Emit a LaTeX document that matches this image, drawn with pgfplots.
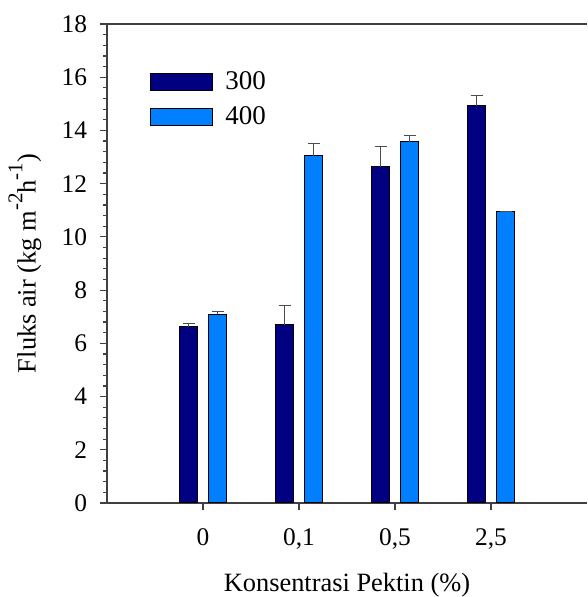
\documentclass[border=0pt]{standalone}
\usepackage{fontspec}
\setmainfont{Liberation Serif}
\usepackage{pgfplots}
\pgfplotsset{compat=1.18}
\definecolor{navyb}{RGB}{0,0,128}
\definecolor{skyb}{RGB}{0,128,255}
\newcommand{\sups}[1]{\raisebox{0.5em}{\fontsize{10.5}{12}\selectfont #1}}
\begin{document}
\fontsize{12}{14}\selectfont
\begin{tikzpicture}
\begin{axis}[
  scale only axis, width=240pt, height=239.5pt,
  xmin=-1, xmax=4, ymin=0, ymax=18,
  ybar=5.5pt, bar width=9pt,
  axis x line=box, axis y line=left,
  axis line style={-, black!75, line width=0.8pt},
  xtick={0,1,2,3}, xticklabels={0,{0,1},{0,5},{2,5}},
  xtick pos=bottom,
  ytick={0,2,...,18}, minor y tick num=4,
  tick align=outside, major tick length=3.3pt, minor tick length=2pt,
  tick style={black!75, line width=0.6pt},
  /pgf/number format/assume math mode=true,
  ylabel={Fluks air (kg m\sups{-2}h\sups{-1})},
  xlabel={Konsentrasi Pektin (\%)},
  label style={font=\fontsize{13.2}{15}\selectfont},
  ylabel shift=2pt, xlabel shift=3.5pt,
  ticklabel style={font=\fontsize{12.7}{14}\selectfont},
  yticklabel style={xshift=-2.5pt},
  xticklabel style={yshift=-5.5pt},
  legend style={at={(axis description cs:0.0896,0.91)}, anchor=north west, draw=none, fill=none, inner sep=0pt, row sep=2.5pt, font=\fontsize{13.5}{15}\selectfont},
  legend cell align=left,
  legend image code/.code={\draw[#1] (0pt,-4.25pt) rectangle (31pt,4.25pt); \path (35pt,0pt);},
]
\addplot[fill=navyb, draw=black, line width=0.5pt,
  error bars/.cd, y dir=plus, y explicit,
  error bar style={black!70, line width=0.6pt},
  error mark options={rotate=90, mark size=3pt, black!70, line width=0.6pt}]
  table[x=x, y=y, y error=e] {
x y e
0 6.63 0.12
1 6.70 0.73
2 12.64 0.75
3 14.92 0.39
};
\addplot[fill=skyb, draw=black, line width=0.5pt,
  error bars/.cd, y dir=plus, y explicit,
  error bar style={black!70, line width=0.6pt},
  error mark options={rotate=90, mark size=3pt, black!70, line width=0.6pt}]
  table[x=x, y=y, y error=e] {
x y e
0 7.10 0.09
1 13.05 0.47
2 13.58 0.23
3 10.95 0.0
};
\legend{300,400}
\end{axis}
\pgfresetboundingbox
\path ([shift={(-53.5pt,-47pt)}]current axis.south west) rectangle ([shift={(240pt,251.5pt)}]current axis.south west);
\end{tikzpicture}
\end{document}
